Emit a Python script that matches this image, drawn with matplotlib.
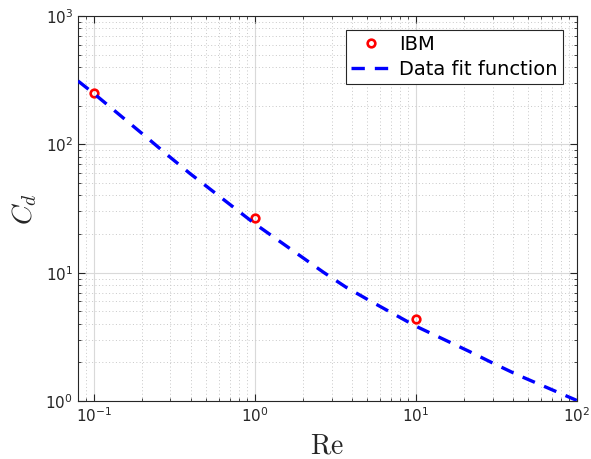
import matplotlib
matplotlib.use('Agg')
import matplotlib.pyplot as plt
from matplotlib.ticker import LogLocator, NullFormatter

# IBM drag coefficients
re_ibm = [0.1, 1.0, 10.0]
cd_ibm = [250.0, 26.9, 4.37]

# Fitted drag curve
re_fit = [0.08, 0.1, 0.216, 0.293, 0.395, 1.0, 2.68, 3.70, 5.24, 10.0, 21.4, 30.2, 43.2, 100.0]
cd_fit = [312.0, 250.0, 112.0, 81.0, 59.5, 24.1, 10.05, 7.69, 6.0, 3.83, 2.44, 1.97, 1.59, 1.01]

plt.rcParams['font.family'] = 'DejaVu Sans'
plt.rcParams['mathtext.fontset'] = 'dejavusans'

fig = plt.figure(figsize=(5.91, 4.59), dpi=100)
ax = fig.add_axes([0.132, 0.1264, 0.844, 0.8386])

ax.plot(re_ibm, cd_ibm, linestyle='none', marker='o', ms=5.5, mfc='none',
        mec='red', mew=1.9, label='IBM', zorder=3)
ax.plot(re_fit, cd_fit, color='blue', lw=2.4, dashes=(4.0, 3.0),
        label='Data fit function', zorder=4)

ax.set_xscale('log')
ax.set_yscale('log')
ax.set_xlim(0.08, 100)
ax.set_ylim(1, 1000)

ax.xaxis.set_major_locator(LogLocator(base=10, numticks=10))
ax.yaxis.set_major_locator(LogLocator(base=10, numticks=10))
ax.xaxis.set_minor_locator(LogLocator(base=10, subs=range(2, 10), numticks=20))
ax.yaxis.set_minor_locator(LogLocator(base=10, subs=range(2, 10), numticks=20))
ax.xaxis.set_minor_formatter(NullFormatter())
ax.yaxis.set_minor_formatter(NullFormatter())

ax.grid(True, which='major', color='#d9d9d9', linestyle='-', linewidth=0.8)
ax.grid(True, which='minor', color='#c8c8c8', linestyle=(0, (1, 2.5)), linewidth=0.7)
ax.set_axisbelow(True)

ax.tick_params(which='both', direction='in', top=True, right=True,
               colors='#262626', labelsize=11)
ax.tick_params(which='major', length=5, width=0.8)
ax.tick_params(which='minor', length=2.5, width=0.6)
for s in ax.spines.values():
    s.set_color('#262626')
    s.set_linewidth(0.8)

ax.set_xlabel(r'$\mathrm{Re}$', fontsize=20, math_fontfamily='cm', color='#262626',
              labelpad=5)
ax.set_ylabel(r'$C_d$', fontsize=20, math_fontfamily='cm', color='#262626',
              labelpad=5)

leg = ax.legend(loc='upper right', fontsize=14, fancybox=False, framealpha=1,
                edgecolor='#262626', handlelength=2.1, handletextpad=0.4,
                borderpad=0.25, labelspacing=0.3, borderaxespad=0,
                bbox_to_anchor=(0.972, 0.9636))
leg.get_frame().set_linewidth(0.8)

fig.savefig('out.png', dpi=100)
